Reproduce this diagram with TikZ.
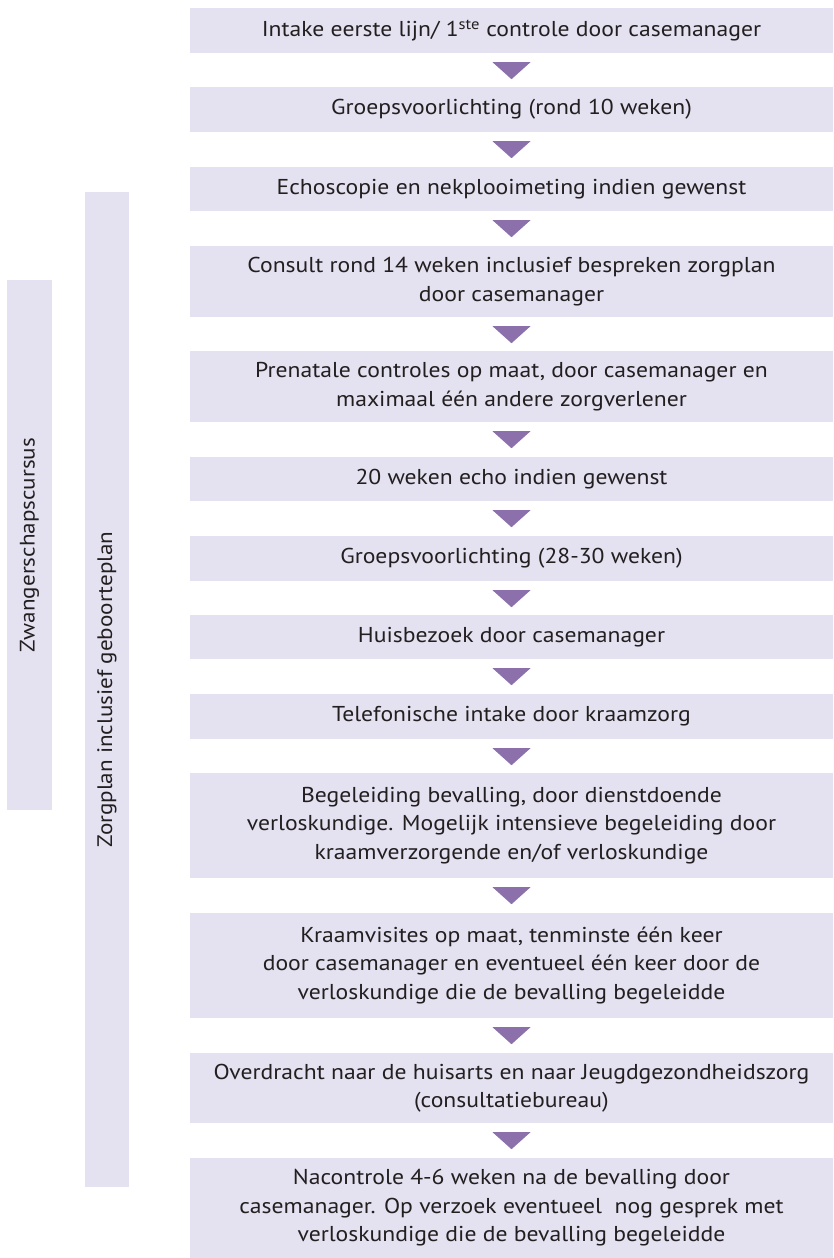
\documentclass[tikz,border=0pt]{standalone}
\usepackage{fontspec}
\setmainfont[FakeStretch=1.1]{PT Sans}
\usetikzlibrary{calc}
\definecolor{boxfill}{RGB}{228,225,240}
\definecolor{arrowpurple}{RGB}{139,112,171}
\definecolor{txt}{RGB}{35,31,32}
\tikzset{
  stepbox/.style={fill=boxfill, draw=none, minimum width=643pt, inner sep=0pt,
    align=center, text=txt, font=\fontsize{21.5}{28.5}\selectfont},
  sidebar/.style={fill=boxfill, draw=none, rotate=90, inner sep=0pt,
    text=txt, font=\fontsize{21}{25}\selectfont},
  tri/.style={fill=arrowpurple, draw=none}
}
\begin{document}
\begin{tikzpicture}[x=1pt,y=-1pt]
\useasboundingbox (0,0) rectangle (833,1258);
% side bars
\node[sidebar, minimum width=530pt, minimum height=45pt] (zw) at (29.5,545) {Zwangerschapscursus};
\node[sidebar, minimum width=995pt, minimum height=44pt] (zp) at (107,689.5) {Zorgplan inclusief geboorteplan};
% steps
\node[stepbox, minimum height=45pt] (b1) at (511.5,30.5) {Intake eerste lijn/ 1\textsuperscript{ste} controle door casemanager};
\node[stepbox, minimum height=45pt] (b2) at (511.5,109.5) {Groepsvoorlichting (rond 10 weken)};
\node[stepbox, minimum height=44pt] (b3) at (511.5,189) {Echoscopie en nekplooimeting indien gewenst};
\node[stepbox, minimum height=71pt] (b4) at (511.5,281.5) {Consult rond 14 weken inclusief bespreken zorgplan\\door casemanager};
\node[stepbox, minimum height=71pt] (b5) at (511.5,386.5) {Prenatale controles op maat, door casemanager en\\maximaal één andere zorgverlener};
\node[stepbox, minimum height=44pt] (b6) at (511.5,479) {20 weken echo indien gewenst};
\node[stepbox, minimum height=45pt] (b7) at (511.5,558.5) {Groepsvoorlichting (28-30 weken)};
\node[stepbox, minimum height=44pt] (b8) at (511.5,637) {Huisbezoek door casemanager};
\node[stepbox, minimum height=45pt] (b9) at (511.5,716.5) {Telefonische intake door kraamzorg};
\node[stepbox, minimum height=105pt] (b10) at (511.5,825.5) {Begeleiding bevalling, door dienstdoende\\verloskundige. Mogelijk intensieve begeleiding door\\kraamverzorgende en/of verloskundige};
\node[stepbox, minimum height=105pt] (b11) at (511.5,965.5) {Kraamvisites op maat, tenminste één keer\\door casemanager en eventueel één keer door de\\verloskundige die de bevalling begeleidde};
\node[stepbox, minimum height=70pt] (b12) at (511.5,1088) {Overdracht naar de huisarts en naar Jeugdgezondheidszorg\\(consultatiebureau)};
\node[stepbox, minimum height=100pt] (b13) at (511.5,1208) {Nacontrole 4-6 weken na de bevalling door\\casemanager. Op verzoek eventueel\ \ nog gesprek met\\verloskundige die de bevalling begeleidde};
% arrows
\foreach \a in {1,...,12}{
  \fill[tri] ($(b\a.south)+(-19,9)$) -- ($(b\a.south)+(19,9)$) -- ($(b\a.south)+(0,26)$) -- cycle;
}
\end{tikzpicture}
\end{document}
